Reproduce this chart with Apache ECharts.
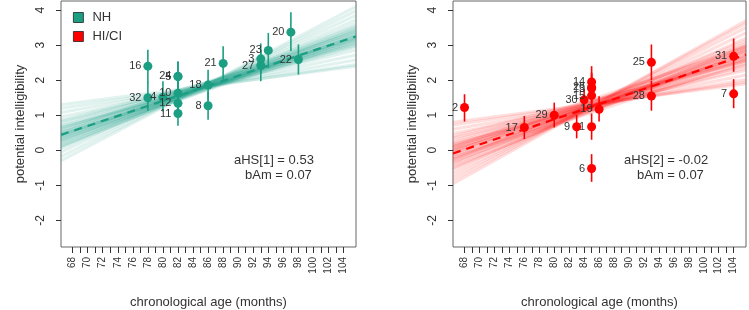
<!DOCTYPE html>
<html>
<head>
<meta charset="utf-8">
<script src="https://cdn.jsdelivr.net/npm/echarts@6/dist/echarts.min.js"></script>
<style>
  html, body { margin: 0; padding: 0; background: #fff; }
  #main { width: 749px; height: 310px; }
</style>
</head>
<body>
<div id="main"></div>
<script>
// NH group: id, age (months), estimate, CI low, CI high
var nhIds  = ['16', '32', '4', '5', '24', '10', '12', '11', '18', '8', '21', '3', '27', '23', '20', '22'];
var nhAge  = [78, 78, 80, 82, 82, 82, 82, 82, 86, 86, 88, 93, 93, 94, 97, 98];
var nhVal  = [2.40, 1.50, 1.51, 2.10, 2.11, 1.63, 1.34, 1.05, 1.86, 1.27, 2.48, 2.61, 2.42, 2.85, 3.37, 2.59];
var nhLow  = [1.93, 1.13, 1.11, 1.70, 1.68, 1.20, 0.95, 0.70, 1.42, 0.87, 1.98, 2.20, 1.97, 2.35, 2.83, 2.16];
var nhHigh = [2.87, 1.95, 1.97, 2.52, 2.54, 2.05, 1.75, 1.40, 2.30, 1.68, 2.97, 3.05, 2.85, 3.35, 3.94, 3.02];

// HI/CI group
var hiIds  = ['2', '17', '29', '9', '30', '1', '14', '26', '13', '15', '6', '19', '25', '28', '31', '7'];
var hiAge  = [68, 76, 80, 83, 84, 85, 85, 85, 85, 85, 85, 86, 93, 93, 104, 104];
var hiVal  = [1.22, 0.65, 1.00, 0.67, 1.44, 0.67, 1.95, 1.80, 1.76, 1.56, -0.52, 1.17, 2.51, 1.55, 2.68, 1.61];
var hiLow  = [0.82, 0.32, 0.65, 0.34, 1.10, 0.30, 1.50, 1.35, 1.30, 1.12, -0.90, 0.82, 2.00, 1.13, 2.24, 1.20];
var hiHigh = [1.60, 0.98, 1.36, 1.01, 1.75, 1.05, 2.40, 2.22, 2.18, 2.00, -0.11, 1.54, 3.02, 1.98, 3.19, 2.03];

// posterior regression lines: value at left edge / right edge of x range
var xEdges = [66.46, 105.65];
var nhMean = [0.44, 3.25];
var hiMean = [-0.09, 2.73];
var nhFan = [
  [0.44, 3.25], [0.30, 3.40], [0.58, 3.10], [0.20, 3.52], [0.70, 2.98],
  [0.12, 3.62], [0.82, 2.86], [0.36, 3.20], [0.50, 3.32], [0.26, 3.28],
  [0.62, 3.22], [0.05, 3.72], [0.95, 2.72], [0.40, 3.45], [0.48, 3.05],
  [-0.05, 3.85], [1.08, 2.58], [0.33, 3.12], [0.55, 3.38], [0.15, 3.35],
  [0.75, 3.15], [-0.18, 3.98], [1.20, 2.45], [0.28, 3.55], [0.66, 2.95],
  [0.45, 3.18], [0.10, 3.48], [0.85, 3.02], [-0.30, 4.10], [1.30, 2.40],
  [0.38, 3.30], [0.52, 3.16], [0.42, 3.24], [0.22, 3.42], [0.64, 3.06]
];
var hiFan = [
  [-0.09, 2.73], [-0.25, 2.90], [0.08, 2.55], [-0.40, 3.05], [0.22, 2.42],
  [-0.55, 3.20], [0.35, 2.28], [-0.15, 2.60], [0.02, 2.88], [-0.32, 2.78],
  [0.15, 2.70], [-0.65, 3.35], [0.48, 2.15], [-0.05, 3.00], [0.00, 2.45],
  [-0.75, 3.50], [0.60, 2.02], [-0.20, 2.50], [0.10, 2.95], [-0.45, 2.85],
  [0.28, 2.62], [-0.85, 3.62], [0.72, 1.95], [-0.28, 3.12], [0.18, 2.35],
  [-0.02, 2.68], [-0.50, 2.98], [0.40, 2.55], [-0.95, 3.70], [0.80, 1.90],
  [-0.12, 2.80], [0.05, 2.66], [-0.22, 2.84], [0.12, 2.58], [-0.35, 2.95]
];

var xTicks = [68, 69, 70, 71, 72, 73, 74, 75, 76, 77, 78, 79, 80, 81, 82, 83, 84, 85, 86,
  87, 88, 89, 90, 91, 92, 93, 94, 95, 96, 97, 98, 99, 100, 101, 102, 103, 104];
var xLabels = [68, 70, 72, 74, 76, 78, 80, 82, 84, 86, 88, 90, 92, 94, 96, 98, 100, 102, 104];
var yTicks = [-2, -1, 0, 1, 2, 3, 4];

var teal = '#1b9e82';
var red = '#ff0000';
var font = 'Liberation Sans';

var myChart = echarts.init(document.getElementById('main'));

function makeX(idx) {
  return {
    type: 'value', gridIndex: idx, min: xEdges[0], max: xEdges[1],
    name: 'chronological age (months)', nameLocation: 'middle', nameGap: 49,
    nameTextStyle: { fontFamily: font, fontSize: 13, color: '#333' },
    axisLine: { show: false, onZero: false },
    splitLine: { show: false },
    axisTick: { show: true, customValues: xTicks, length: 6, lineStyle: { color: '#333' } },
    axisLabel: { customValues: xLabels, rotate: 90, fontSize: 10, fontFamily: font, color: '#333', margin: 10 }
  };
}

function makeY(idx) {
  return {
    type: 'value', gridIndex: idx, min: -2.76, max: 4.26,
    name: 'potential intelligibility', nameLocation: 'middle', nameGap: 34, nameRotate: 90,
    nameTextStyle: { fontFamily: font, fontSize: 13, color: '#333' },
    axisLine: { show: false, onZero: false },
    splitLine: { show: false },
    axisTick: { show: true, customValues: yTicks, length: 5, lineStyle: { color: '#333' } },
    axisLabel: { customValues: yTicks, rotate: 90, fontSize: 12, fontFamily: font, color: '#333', margin: 14 }
  };
}

function fanSeries(idx, fan, color) {
  return {
    type: 'lines', coordinateSystem: 'cartesian2d', xAxisIndex: idx, yAxisIndex: idx,
    silent: true, z: 1,
    lineStyle: { color: color, width: 3, opacity: 0.13 },
    data: fan.map(function (f) { return { coords: [[xEdges[0], f[0]], [xEdges[1], f[1]]] }; })
  };
}

function meanSeries(idx, m, color) {
  return {
    type: 'line', xAxisIndex: idx, yAxisIndex: idx, symbol: 'none', silent: true, z: 2,
    lineStyle: { color: color, width: 2.2, type: [8, 6] },
    data: [[xEdges[0], m[0]], [xEdges[1], m[1]]]
  };
}

function errSeries(idx, age, lo, hi, color) {
  return {
    type: 'custom', xAxisIndex: idx, yAxisIndex: idx, silent: true, z: 3,
    renderItem: function (params, api) {
      var a = api.coord([api.value(0), api.value(1)]);
      var b = api.coord([api.value(0), api.value(2)]);
      return { type: 'line', shape: { x1: a[0], y1: a[1], x2: b[0], y2: b[1] },
        style: { stroke: color, lineWidth: 1.6 } };
    },
    data: age.map(function (x, i) { return [x, lo[i], hi[i]]; })
  };
}

function pointSeries(name, idx, ids, age, val, color) {
  return {
    name: name, type: 'scatter', xAxisIndex: idx, yAxisIndex: idx, z: 4,
    symbol: 'circle', symbolSize: 9,
    itemStyle: { color: color, opacity: 1 },
    label: { show: true, position: 'left', distance: 2, formatter: '{b}',
      fontFamily: font, fontSize: 11, color: '#333' },
    data: age.map(function (x, i) { return { name: ids[i], value: [x, val[i]] }; })
  };
}

var option = {
  animation: false,
  textStyle: { fontFamily: font },
  grid: [
    { left: 61, top: 1, width: 295, height: 246, show: true, borderColor: '#666', borderWidth: 1, outerBoundsMode: 'none' },
    { left: 453, top: 1, width: 293, height: 246, show: true, borderColor: '#666', borderWidth: 1, outerBoundsMode: 'none' }
  ],
  xAxis: [makeX(0), makeX(1)],
  yAxis: [makeY(0), makeY(1)],
  legend: {
    data: ['NH', 'HI/CI'], orient: 'vertical', left: 68, top: 6,
    icon: 'rect', itemWidth: 10, itemHeight: 10, itemGap: 6,
    itemStyle: { borderColor: '#222', borderWidth: 0.8 },
    textStyle: { fontFamily: font, fontSize: 13, color: '#333', padding: [0, 0, 0, 4] },
    selectedMode: false
  },
  graphic: [
    { type: 'text', left: 234, top: 154, style: { text: 'aHS[1] = 0.53', font: '13px Liberation Sans', fill: '#333' } },
    { type: 'text', left: 245, top: 169, style: { text: 'bAm = 0.07', font: '13px Liberation Sans', fill: '#333' } },
    { type: 'text', left: 624, top: 154, style: { text: 'aHS[2] = -0.02', font: '13px Liberation Sans', fill: '#333' } },
    { type: 'text', left: 637, top: 169, style: { text: 'bAm = 0.07', font: '13px Liberation Sans', fill: '#333' } }
  ],
  series: [
    fanSeries(0, nhFan, teal),
    fanSeries(1, hiFan, red),
    meanSeries(0, nhMean, teal),
    meanSeries(1, hiMean, red),
    errSeries(0, nhAge, nhLow, nhHigh, teal),
    errSeries(1, hiAge, hiLow, hiHigh, red),
    pointSeries('NH', 0, nhIds, nhAge, nhVal, teal),
    pointSeries('HI/CI', 1, hiIds, hiAge, hiVal, red)
  ]
};

myChart.setOption(option);
</script>
</body>
</html>
